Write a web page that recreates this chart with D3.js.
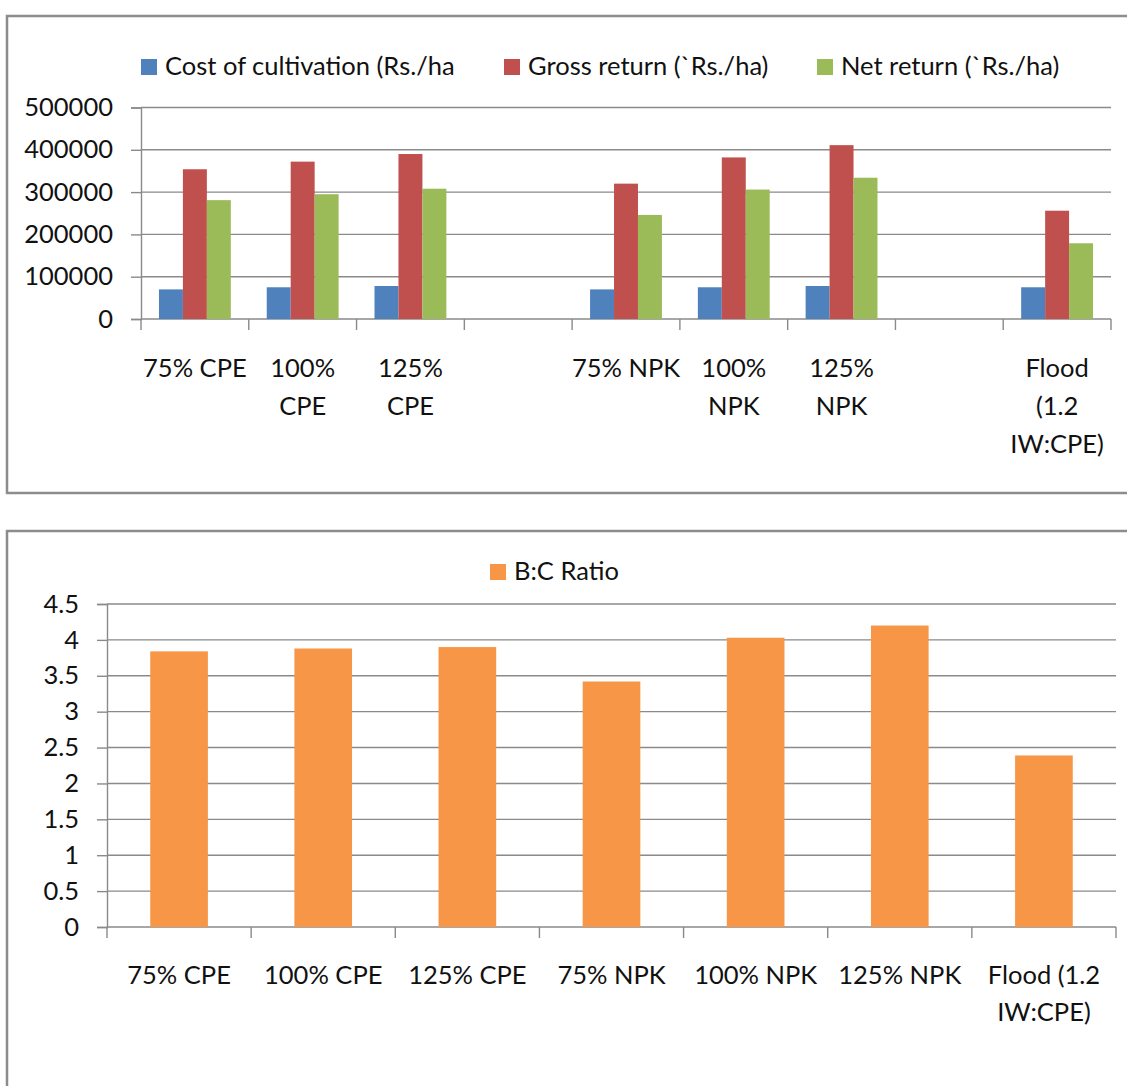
<!DOCTYPE html>
<html>
<head>
<meta charset="utf-8">
<script src="https://cdn.jsdelivr.net/npm/d3@7"></script>
<style>
  body { margin: 0; background: #fff; }
  text { font-family: Lato, "Open Sans", sans-serif; fill: #111; }
</style>
</head>
<body>
<div id="chart-div"></div>
<script>
// top chart data (blank slots are kept as in the original sheet)
var treatments = ["75% CPE", "100% CPE", "125% CPE", "blank1", "75% NPK", "100% NPK", "125% NPK", "blank2", "Flood (1.2 IW:CPE)"];
var treatmentLines = [["75% CPE"], ["100%", "CPE"], ["125%", "CPE"], [], ["75% NPK"], ["100%", "NPK"], ["125%", "NPK"], [], ["Flood", "(1.2", "IW:CPE)"]];
var seriesNames = ["Cost of cultivation (Rs./ha", "Gross return (`Rs./ha)", "Net return (`Rs./ha)"];
var costValues  = [70000, 75000, 78000, null, 70000, 75000, 78000, null, 75000];
var grossValues = [354000, 372000, 390000, null, 320000, 382000, 411000, null, 256000];
var netValues   = [281000, 295000, 308000, null, 246000, 306000, 334000, null, 179000];
var topTicks = [0, 100000, 200000, 300000, 400000, 500000];

// bottom chart data
var bcCategories = ["75% CPE", "100% CPE", "125% CPE", "75% NPK", "100% NPK", "125% NPK", "Flood (1.2 IW:CPE)"];
var bcLines = [["75% CPE"], ["100% CPE"], ["125% CPE"], ["75% NPK"], ["100% NPK"], ["125% NPK"], ["Flood (1.2", "IW:CPE)"]];
var bcValues = [3.84, 3.88, 3.90, 3.42, 4.03, 4.20, 2.39];
var bcTicks = [0, 0.5, 1, 1.5, 2, 2.5, 3, 3.5, 4, 4.5];

var width = 1127, height = 1086;
var fontSize = 25.5;
var gridColor = "#8a8a8a";

var svg = d3.select("#chart-div")
    .append("svg")
    .attr("width", width)
    .attr("height", height);

var color = d3.scaleOrdinal()
    .domain(seriesNames)
    .range(["#4f81bd", "#c0504d", "#9bbb59"]);

function drawAxes(g, x, y, ticks, left, right, fmt) {
    // gridlines
    g.selectAll(".grid")
        .data(ticks.filter(function(t) { return t != 0; }))
        .enter().append("line")
        .attr("x1", left).attr("x2", right)
        .attr("y1", function(d) { return y(d); })
        .attr("y2", function(d) { return y(d); })
        .style("stroke", gridColor).style("stroke-width", 1.4);

    var yAxis = d3.axisLeft(y).tickValues(ticks).tickSize(10).tickPadding(18).tickFormat(fmt);
    var ya = g.append("g")
        .attr("transform", "translate(" + left + ",0)")
        .call(yAxis);
    ya.select(".domain").style("stroke", gridColor).style("stroke-width", 1.4);
    ya.selectAll(".tick line").style("stroke", gridColor).style("stroke-width", 1.4);
    ya.selectAll(".tick text")
        .style("font-size", fontSize + "px")
        .style("font-family", "Lato")
        .attr("fill", "#111");

    // x axis with ticks at slot boundaries
    var yb = y(0);
    g.append("line")
        .attr("x1", left).attr("x2", right)
        .attr("y1", yb).attr("y2", yb)
        .style("stroke", gridColor).style("stroke-width", 1.4);
    var bounds = x.domain().map(function(d) { return x(d) - x.step() * x.paddingOuter(); });
    bounds.push(right);
    g.selectAll(".xtick")
        .data(bounds)
        .enter().append("line")
        .attr("x1", function(d) { return d; })
        .attr("x2", function(d) { return d; })
        .attr("y1", yb).attr("y2", yb + 11)
        .style("stroke", gridColor).style("stroke-width", 1.4);
}

function drawLabels(g, x, names, lines, baseline, lineGap) {
    var lab = g.selectAll(".xlab")
        .data(names)
        .enter().append("text")
        .attr("text-anchor", "middle")
        .style("font-size", fontSize + "px")
        .attr("transform", function(d) { return "translate(" + (x(d) + x.bandwidth() / 2) + "," + baseline + ")"; });
    lab.each(function(d, i) {
        var t = d3.select(this);
        lines[i].forEach(function(l, j) {
            t.append("tspan").attr("x", 0).attr("y", j * lineGap).text(l);
        });
    });
}

//Top chart
var topChart = svg.append("g");
topChart.append("rect")
    .attr("x", 7).attr("y", 16)
    .attr("width", 1140).attr("height", 477)
    .style("fill", "none").style("stroke", "#8c8c8c").style("stroke-width", 2.5);

var x0 = d3.scaleBand()
    .domain(treatments)
    .range([141, 1111])
    .padding(0);
var x1 = d3.scaleBand()
    .domain(seriesNames)
    .range([0, x0.bandwidth()])
    .paddingInner(0)
    .paddingOuter(0.75);
var y = d3.scaleLinear()
    .domain([0, 500000])
    .range([319, 107.5]);

drawAxes(topChart, x0, y, topTicks, 141, 1111, d3.format("d"));

var data = treatments.map(function(t, i) {
    return {
        treatment: t,
        values: [
            {stat: seriesNames[0], value: costValues[i]},
            {stat: seriesNames[1], value: grossValues[i]},
            {stat: seriesNames[2], value: netValues[i]}
        ]
    };
});

var slice = topChart.selectAll(".slice")
    .data(data)
    .enter().append("g")
    .attr("class", "slice")
    .attr("transform", function(d) { return "translate(" + x0(d.treatment) + ",0)"; });

slice.selectAll("rect")
    .data(function(d) { return d.values.filter(function(v) { return v.value != null; }); })
    .enter().append("rect")
    .attr("x", function(d) { return x1(d.stat); })
    .attr("width", x1.bandwidth())
    .attr("y", function(d) { return y(d.value); })
    .attr("height", function(d) { return y(0) - y(d.value); })
    .style("fill", function(d) { return color(d.stat); });

drawLabels(topChart, x0, treatments, treatmentLines, 377, 38);

//Top legend
var legendX = [141, 504, 817];
var legend = topChart.selectAll(".legend")
    .data(seriesNames)
    .enter().append("g")
    .attr("class", "legend")
    .attr("transform", function(d, i) { return "translate(" + legendX[i] + ",59)"; });
legend.append("rect")
    .attr("width", 16).attr("height", 16)
    .style("fill", function(d) { return color(d); });
legend.append("text")
    .attr("x", 24).attr("y", 16)
    .style("font-size", fontSize + "px")
    .text(function(d) { return d; });

//Bottom chart
var bottomChart = svg.append("g");
bottomChart.append("rect")
    .attr("x", 7).attr("y", 531)
    .attr("width", 1140).attr("height", 600)
    .style("fill", "none").style("stroke", "#8c8c8c").style("stroke-width", 2.5);

var xb = d3.scaleBand()
    .domain(bcCategories)
    .range([107, 1116])
    .paddingInner(0.6)
    .paddingOuter(0.3);
var yb = d3.scaleLinear()
    .domain([0, 4.5])
    .range([927, 604]);

drawAxes(bottomChart, xb, yb, bcTicks, 107, 1116, function(d) { return String(d); });

bottomChart.selectAll(".bar")
    .data(bcValues)
    .enter().append("rect")
    .attr("class", "bar")
    .attr("x", function(d, i) { return xb(bcCategories[i]); })
    .attr("width", xb.bandwidth())
    .attr("y", function(d) { return yb(d); })
    .attr("height", function(d) { return yb(0) - yb(d); })
    .style("fill", "#f79646");

drawLabels(bottomChart, xb, bcCategories, bcLines, 984, 37);

var bLegend = bottomChart.append("g")
    .attr("transform", "translate(490,564)");
bLegend.append("rect")
    .attr("width", 16).attr("height", 16)
    .style("fill", "#f79646");
bLegend.append("text")
    .attr("x", 24).attr("y", 16)
    .style("font-size", fontSize + "px")
    .text("B:C Ratio");
</script>
</body>
</html>
